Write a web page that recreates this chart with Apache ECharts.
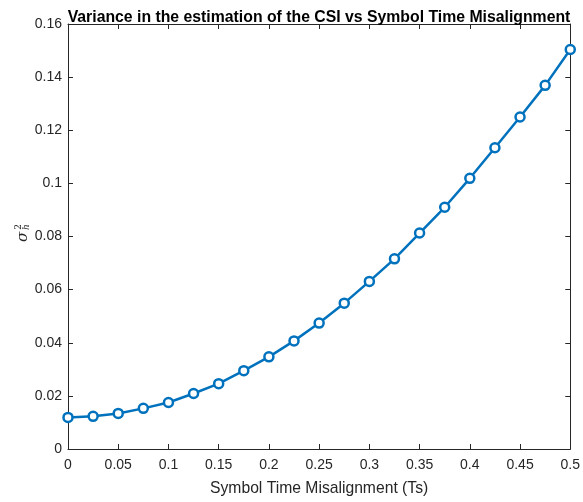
<!DOCTYPE html>
<html><head><meta charset="utf-8">
<script src="https://cdn.jsdelivr.net/npm/echarts@6/dist/echarts.min.js"></script>
<style>html,body{margin:0;padding:0;background:#fff}#c{width:583px;height:502px}</style>
</head><body><div id="c"></div>
<script>
const misalignment = [0,0.025,0.05,0.075,0.1,0.125,0.15,0.175,0.2,0.225,0.25,0.275,0.3,0.325,0.35,0.375,0.4,0.425,0.45,0.475,0.5];
const variance = [0.0119,0.0123,0.0134,0.0153,0.0175,0.0209,0.0246,0.0295,0.0347,0.0407,0.0474,0.0549,0.0631,0.0716,0.0813,0.0910,0.1019,0.1134,0.1250,0.1369,0.1504];
const titleText = 'Variance in the estimation of the CSI vs Symbol Time Misalignment';
const xName = 'Symbol Time Misalignment (Ts)';

const axisColor = '#262626';
const font = 'Liberation Sans, Arial, Helvetica, sans-serif';
const serif = 'DejaVu Serif, Liberation Serif, serif';
const chart = echarts.init(document.getElementById('c'));
const common = {
  axisLine:{show:true,onZero:false,lineStyle:{color:axisColor,width:1}},
  axisTick:{show:true,inside:true,length:5,lineStyle:{color:axisColor}},
  splitLine:{show:false}
};
chart.setOption({
  animation:false,
  backgroundColor:'#fff',
  title:{text:titleText,left:314,top:5,textAlign:'center',
    textStyle:{fontFamily:font,fontSize:15.8,fontWeight:'bold',color:'#000'}},
  grid:{left:68,right:10,top:24,bottom:49,containLabel:false},
  xAxis:[
    Object.assign({type:'value',min:0,max:0.5,interval:0.05,position:'bottom',
      name:xName,nameLocation:'middle',nameGap:32,
      nameTextStyle:{fontFamily:font,fontSize:15.7,color:axisColor},
      axisLabel:{fontFamily:font,fontSize:14,color:axisColor,margin:9}},common),
    Object.assign({type:'value',min:0,max:0.5,interval:0.05,position:'top',
      axisLabel:{show:false}},common)
  ],
  yAxis:[
    Object.assign({type:'value',min:0,max:0.16,interval:0.02,position:'left',
      axisLabel:{fontFamily:font,fontSize:14,color:axisColor,margin:6}},common),
    Object.assign({type:'value',min:0,max:0.16,interval:0.02,position:'right',
      axisLabel:{show:false}},common)
  ],
  graphic:[{
    type:'group',x:23,y:232,rotation:Math.PI/2,
    children:[
      {type:'text',x:-5,y:0,style:{text:'σ',font:'italic 15px '+serif,fill:axisColor,textAlign:'center',textVerticalAlign:'middle'}},
      {type:'text',x:5,y:-4,style:{text:'2',font:'9px '+serif,fill:axisColor,textAlign:'center',textVerticalAlign:'middle'}},
      {type:'text',x:5,y:4,style:{text:'h',font:'italic 9px '+serif,fill:axisColor,textAlign:'center',textVerticalAlign:'middle'}}
    ]
  }],
  series:[{
    type:'line',
    data:misalignment.map((x,i)=>[x,variance[i]]),
    symbol:'circle',symbolSize:9,showSymbol:true,
    lineStyle:{color:'#0072BD',width:2.5},
    itemStyle:{color:'#fff',borderColor:'#0072BD',borderWidth:2.5},
    clip:false
  }]
});
</script></body></html>
